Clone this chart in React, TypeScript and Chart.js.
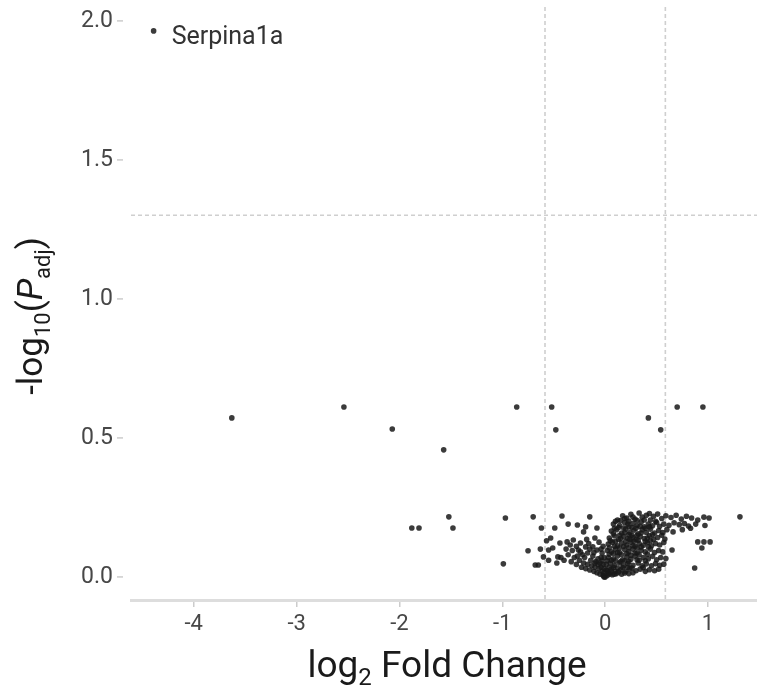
import React, { useEffect, useRef } from "react";
import { Chart, registerables } from "chart.js";

Chart.register(...registerables);

// Axis ticks
const xTicks = [-4, -3, -2, -1, 0, 1];
const yTicks = [0, 0.5, 1.0, 1.5, 2.0];

// Significance cut-offs
const fcCutoff = 0.585; // log2(1.5)
const padjCutoff = 1.301; // -log10(0.05)

// Labelled gene
const labelNames = ["Serpina1a"];
const labelFC = [-4.39];
const labelP = [1.964];

// Other genes: [log2 fold change, -log10(Padj)]
const genePoints: [number, number][] = [
  // far left / upper
  [-3.63, 0.572], [-2.54, 0.611], [-2.07, 0.532], [-1.57, 0.457],
  [-1.52, 0.216], [-1.88, 0.176], [-1.81, 0.176], [-1.48, 0.176],
  [-0.86, 0.611], [-0.52, 0.611], [-0.48, 0.529], [-0.97, 0.212], [-0.99, 0.047],
  [0.42, 0.572], [0.54, 0.529], [0.70, 0.611], [0.95, 0.611],
  // left wing
  [-0.70, 0.216], [-0.42, 0.219], [-0.15, 0.216], [-0.62, 0.176], [-0.49, 0.176],
  [-0.36, 0.19], [-0.27, 0.187], [-0.19, 0.18], [-0.21, 0.162], [-0.08, 0.176],
  [-0.75, 0.094], [-0.63, 0.10], [-0.55, 0.097], [-0.51, 0.104], [-0.60, 0.072],
  [-0.46, 0.072], [-0.68, 0.043], [-0.65, 0.043], [-0.44, 0.122], [-0.37, 0.126],
  [-0.34, 0.115], [-0.31, 0.133], [-0.24, 0.122], [-0.19, 0.108], [-0.26, 0.097],
  [-0.17, 0.086], [-0.12, 0.108], [-0.08, 0.097], [-0.03, 0.086],
  [-0.43, 0.07], [-0.40, 0.06], [-0.36, 0.08], [-0.33, 0.055], [-0.30, 0.07],
  [-0.28, 0.045], [-0.25, 0.06], [-0.23, 0.035], [-0.21, 0.05], [-0.19, 0.03],
  [-0.17, 0.045], [-0.15, 0.025], [-0.13, 0.04], [-0.11, 0.02], [-0.10, 0.035],
  [-0.08, 0.015], [-0.06, 0.03], [-0.05, 0.01], [-0.03, 0.02], [-0.02, 0.005],
  [-0.01, 0.0], [-0.14, 0.06], [-0.09, 0.055], [-0.05, 0.05], [-0.02, 0.045],
  [-0.32, 0.095], [-0.22, 0.08], [-0.12, 0.075], [-0.04, 0.07], [-0.28, 0.11],
  [-0.16, 0.12], [-0.06, 0.125], [-0.02, 0.11], [-0.38, 0.10], [-0.47, 0.05],
  [-0.55, 0.06], [-0.57, 0.13], [-0.53, 0.14],
  [-0.04, 0.035], [-0.07, 0.045], [-0.10, 0.05], [-0.03, 0.058], [-0.07, 0.065],
  [-0.11, 0.088], [-0.15, 0.10], [-0.20, 0.07], [-0.24, 0.09], [-0.27, 0.075],
  [-0.18, 0.135], [-0.10, 0.14], [-0.04, 0.10], [-0.01, 0.07], [-0.01, 0.03],
  // right wing
  [0.12, 0.205], [0.17, 0.22], [0.21, 0.212], [0.25, 0.225], [0.29, 0.208], [0.33, 0.23],
  [0.36, 0.215], [0.40, 0.222], [0.44, 0.205], [0.47, 0.218], [0.51, 0.226], [0.55, 0.21],
  [0.59, 0.22], [0.64, 0.214], [0.69, 0.222], [0.74, 0.208], [0.79, 0.218], [0.84, 0.212],
  [0.90, 0.205], [0.96, 0.215], [1.01, 0.212],
  [0.08, 0.19], [0.14, 0.185], [0.19, 0.195], [0.23, 0.18], [0.27, 0.192], [0.31, 0.185],
  [0.35, 0.198], [0.38, 0.18], [0.42, 0.19], [0.46, 0.184], [0.50, 0.196], [0.53, 0.182],
  [0.57, 0.19], [0.62, 0.186], [0.67, 0.195], [0.72, 0.188], [0.77, 0.192], [0.81, 0.183],
  [0.88, 0.19], [0.97, 0.185],
  [0.06, 0.165], [0.11, 0.17], [0.16, 0.158], [0.20, 0.172], [0.24, 0.16], [0.28, 0.168],
  [0.32, 0.155], [0.36, 0.17], [0.40, 0.16], [0.44, 0.172], [0.48, 0.158], [0.52, 0.167],
  [0.56, 0.16], [0.60, 0.17], [0.66, 0.162], [0.75, 0.17], [0.83, 0.175],
  [0.04, 0.14], [0.09, 0.148], [0.13, 0.135], [0.18, 0.145], [0.22, 0.138], [0.26, 0.15],
  [0.30, 0.135], [0.34, 0.145], [0.38, 0.138], [0.43, 0.148], [0.47, 0.135], [0.51, 0.142],
  [0.55, 0.15], [0.58, 0.136],
  [0.03, 0.118], [0.07, 0.125], [0.12, 0.112], [0.16, 0.122], [0.21, 0.115], [0.25, 0.125],
  [0.29, 0.11], [0.33, 0.12], [0.37, 0.114], [0.41, 0.124], [0.45, 0.112], [0.49, 0.12],
  [0.53, 0.115], [0.57, 0.124],
  [0.02, 0.095], [0.06, 0.09], [0.10, 0.1], [0.14, 0.088], [0.19, 0.098], [0.23, 0.09],
  [0.27, 0.1], [0.31, 0.086], [0.35, 0.096], [0.39, 0.09], [0.44, 0.1], [0.48, 0.088],
  [0.52, 0.095], [0.56, 0.09], [0.65, 0.097],
  [0.03, 0.07], [0.08, 0.065], [0.12, 0.075], [0.17, 0.062], [0.21, 0.072], [0.25, 0.064],
  [0.29, 0.074], [0.33, 0.06], [0.37, 0.07], [0.42, 0.065], [0.46, 0.074], [0.50, 0.062],
  [0.54, 0.07], [0.59, 0.066],
  [0.01, 0.045], [0.05, 0.05], [0.09, 0.042], [0.14, 0.05], [0.18, 0.04], [0.22, 0.048],
  [0.27, 0.042], [0.32, 0.05], [0.36, 0.04], [0.40, 0.047], [0.45, 0.04], [0.49, 0.048],
  [0.53, 0.042], [0.57, 0.046],
  [0.02, 0.022], [0.06, 0.028], [0.10, 0.02], [0.15, 0.026], [0.20, 0.02], [0.24, 0.03],
  [0.30, 0.022], [0.34, 0.028], [0.39, 0.02], [0.43, 0.026], [0.48, 0.022], [0.52, 0.028],
  [0.0, 0.0], [0.02, 0.005], [0.04, 0.01], [0.07, 0.008], [0.11, 0.012], [0.16, 0.01],
  [0.23, 0.012], [-0.01, 0.004],
  [0.10, 0.20], [0.15, 0.203], [0.19, 0.21], [0.23, 0.20], [0.27, 0.215], [0.31, 0.203],
  [0.38, 0.205], [0.43, 0.228], [0.49, 0.20],
  [0.09, 0.175], [0.13, 0.178], [0.18, 0.176], [0.22, 0.19], [0.26, 0.178], [0.30, 0.175],
  [0.34, 0.182], [0.39, 0.175], [0.43, 0.18],
  [0.08, 0.155], [0.14, 0.15], [0.19, 0.16], [0.23, 0.152], [0.27, 0.142], [0.31, 0.15],
  [0.35, 0.158], [0.41, 0.14], [0.46, 0.152],
  [0.05, 0.13], [0.10, 0.128], [0.15, 0.138], [0.20, 0.128], [0.24, 0.135], [0.28, 0.128],
  [0.32, 0.132], [0.39, 0.128], [0.44, 0.13],
  [0.04, 0.105], [0.09, 0.11], [0.14, 0.105], [0.18, 0.11], [0.23, 0.105], [0.27, 0.112],
  [0.31, 0.104], [0.35, 0.108], [0.42, 0.108],
  [0.04, 0.082], [0.08, 0.085], [0.12, 0.088], [0.16, 0.08], [0.21, 0.084], [0.25, 0.078],
  [0.29, 0.086], [0.33, 0.08], [0.41, 0.082],
  [0.02, 0.058], [0.06, 0.06], [0.10, 0.058], [0.15, 0.055], [0.19, 0.058], [0.23, 0.055],
  [0.31, 0.062], [0.39, 0.058],
  [0.04, 0.035], [0.08, 0.035], [0.12, 0.032], [0.17, 0.034], [0.22, 0.035], [0.26, 0.032],
  [0.37, 0.034],
  [0.03, 0.015], [0.06, 0.018], [0.09, 0.01], [0.13, 0.018], [0.19, 0.014], [0.27, 0.015],
  [0.01, 0.025], [-0.01, 0.015],
  // right outliers
  [0.87, 0.032], [1.31, 0.216], [0.90, 0.126], [0.96, 0.126], [1.02, 0.126], [0.94, 0.104],
];

const X_MIN = -4.61;
const X_MAX = 1.476;
const Y_MIN = -0.083;
const Y_MAX = 2.05;

const FONT = "Roboto, 'Noto Sans', Arial, sans-serif";
const POINT_COLOR = "rgba(25,25,25,0.85)";

type Part = { t: string; size: number; dy?: number; italic?: boolean };

function drawParts(ctx: CanvasRenderingContext2D, parts: Part[], cx: number, cy: number) {
  let total = 0;
  const widths = parts.map((p) => {
    ctx.font = `${p.italic ? "italic " : ""}${p.size}px ${FONT}`;
    const w = ctx.measureText(p.t).width;
    total += w;
    return w;
  });
  let x = cx - total / 2;
  parts.forEach((p, i) => {
    ctx.font = `${p.italic ? "italic " : ""}${p.size}px ${FONT}`;
    ctx.fillText(p.t, x, cy + (p.dy || 0));
    x += widths[i];
  });
}

const refLines = {
  id: "refLines",
  beforeDatasetsDraw(chart: any) {
    const { ctx, chartArea } = chart;
    const xs = chart.scales.x;
    const ys = chart.scales.y;
    ctx.save();
    ctx.strokeStyle = "#cfcfcf";
    ctx.lineWidth = 1.6;
    ctx.setLineDash([4, 3]);
    [-fcCutoff, fcCutoff].forEach((v) => {
      const px = xs.getPixelForValue(v);
      ctx.beginPath();
      ctx.moveTo(px, chartArea.top);
      ctx.lineTo(px, chartArea.bottom);
      ctx.stroke();
    });
    const py = ys.getPixelForValue(padjCutoff);
    ctx.beginPath();
    ctx.moveTo(chartArea.left, py);
    ctx.lineTo(chartArea.right, py);
    ctx.stroke();
    ctx.restore();
    // y tick marks, set slightly away from the panel edge
    ctx.save();
    ctx.strokeStyle = "#cccccc";
    ctx.lineWidth = 1.5;
    yTicks.forEach((v) => {
      const y = ys.getPixelForValue(v);
      ctx.beginPath();
      ctx.moveTo(chartArea.left - 14, y);
      ctx.lineTo(chartArea.left - 8, y);
      ctx.stroke();
    });
    ctx.restore();
  },
};

const textPlugin = {
  id: "textPlugin",
  afterDraw(chart: any) {
    const { ctx, chartArea } = chart;
    const xs = chart.scales.x;
    const ys = chart.scales.y;
    ctx.save();
    ctx.fillStyle = "#333333";
    ctx.textBaseline = "middle";
    ctx.textAlign = "left";
    ctx.font = `25px ${FONT}`;
    labelNames.forEach((name, i) => {
      const px = xs.getPixelForValue(labelFC[i]);
      const py = ys.getPixelForValue(labelP[i]);
      ctx.fillText(name, px + 18, py + 7);
    });
    ctx.fillStyle = "#1a1a1a";
    ctx.textBaseline = "alphabetic";
    drawParts(
      ctx,
      [
        { t: "log", size: 37 },
        { t: "2", size: 24, dy: 8 },
        { t: " Fold Change", size: 37 },
      ],
      (chartArea.left + chartArea.right) / 2 + 3,
      677
    );
    ctx.translate(42, 316);
    ctx.rotate(-Math.PI / 2);
    drawParts(
      ctx,
      [
        { t: "-log", size: 35 },
        { t: "10", size: 22, dy: 8 },
        { t: "(", size: 35 },
        { t: "P", size: 35, italic: true },
        { t: "adj", size: 22, dy: 8 },
        { t: ")", size: 35 },
      ],
      0,
      0
    );
    ctx.restore();
  },
};

export default function App() {
  const ref = useRef<HTMLCanvasElement>(null);
  useEffect(() => {
    if (!ref.current) return;
    const chart = new Chart(ref.current, {
      type: "scatter",
      data: {
        datasets: [
          {
            data: genePoints.map(([x, y]) => ({ x, y })),
            pointRadius: 2.8,
            pointBorderWidth: 0,
            pointBackgroundColor: POINT_COLOR,
          },
          {
            data: labelFC.map((x, i) => ({ x, y: labelP[i] })),
            pointRadius: 2.8,
            pointBorderWidth: 0,
            pointBackgroundColor: POINT_COLOR,
          },
        ],
      },
      options: {
        responsive: false,
        animation: false,
        layout: { autoPadding: false, padding: { top: 7, left: 0, right: 0, bottom: 0 } },
        plugins: { legend: { display: false }, tooltip: { enabled: false } },
        scales: {
          x: {
            type: "linear",
            min: X_MIN,
            max: X_MAX,
            afterBuildTicks: (s: any) => {
              s.ticks = xTicks.map((v) => ({ value: v }));
            },
            afterFit: (s: any) => {
              s.height = 90;
              s.paddingLeft = 0;
              s.paddingRight = 0;
            },
            grid: { drawOnChartArea: false, drawTicks: true, tickLength: 7, color: "#cccccc", lineWidth: 1.5 },
            border: { display: true, color: "#dddddd", width: 3 },
            ticks: {
              font: { family: FONT, size: 22 },
              color: "#474747",
              padding: 4,
              callback: (v: any) => String(v),
            },
          },
          y: {
            type: "linear",
            min: Y_MIN,
            max: Y_MAX,
            afterBuildTicks: (s: any) => {
              s.ticks = yTicks.map((v) => ({ value: v }));
            },
            afterFit: (s: any) => {
              s.width = 131;
              s.paddingTop = 0;
              s.paddingBottom = 0;
            },
            grid: { display: false, drawTicks: false },
            border: { display: false },
            ticks: {
              font: { family: FONT, size: 23 },
              color: "#474747",
              padding: 18,
              callback: (v: any) => Number(v).toFixed(1),
            },
          },
        },
      },
      plugins: [refLines, textPlugin],
    });
    return () => chart.destroy();
  }, []);
  return (
    <div style={{ position: "absolute", left: 0, top: 0, width: 757, height: 690, background: "#fff" }}>
      <canvas ref={ref} width={757} height={690} style={{ display: "block" }} />
    </div>
  );
}
